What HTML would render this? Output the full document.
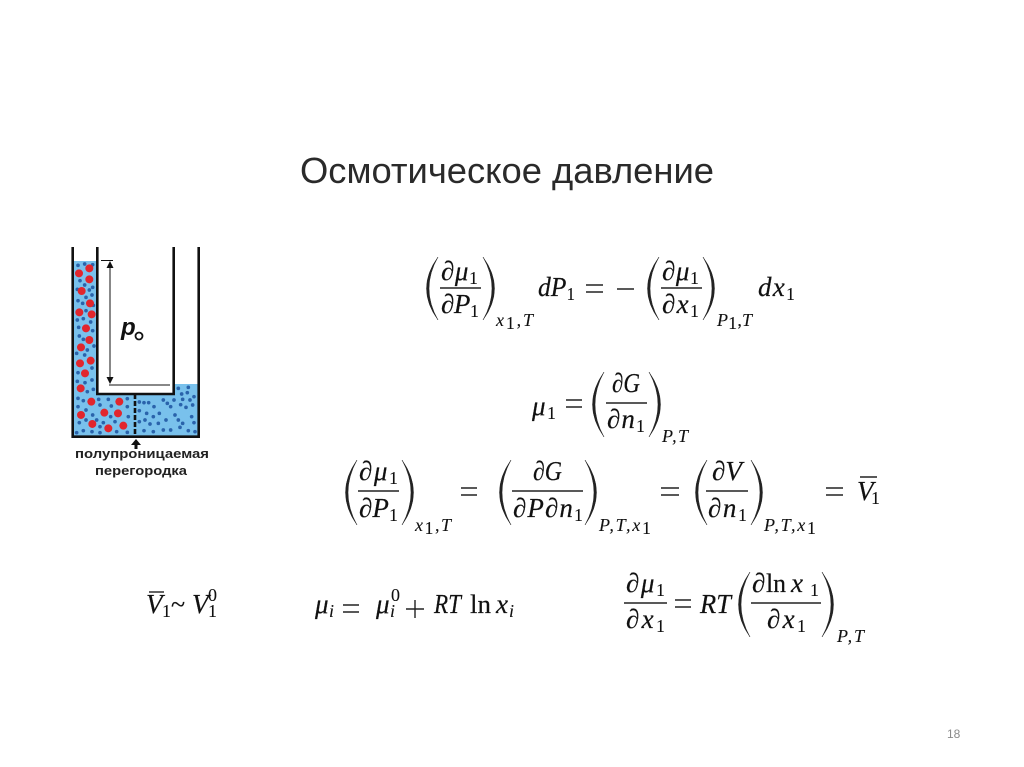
<!DOCTYPE html>
<html lang="ru">
<head>
<meta charset="utf-8">
<title>Осмотическое давление</title>
<style>
html,body{margin:0;padding:0;background:#fff;width:1024px;height:767px;overflow:hidden}
svg{display:block}
text{font-family:"Liberation Serif",serif;fill:#111}
.m{font-size:27px;font-style:italic;stroke:#111;stroke-width:.2}
.s{font-size:18px;font-style:normal;stroke:#111;stroke-width:.1}
.b{font-size:18px;font-style:italic;stroke:#111;stroke-width:.1}
.op{font-size:26px;font-style:normal;stroke:#111;stroke-width:.2}
.l{stroke:#222;stroke-width:1.4}
.p{fill:#222;stroke:#222;stroke-width:.5}
</style>
</head>
<body>
<svg width="1024" height="767" viewBox="0 0 1024 767" xmlns="http://www.w3.org/2000/svg">
<rect width="1024" height="767" fill="#fff"/>

<text x="300" y="183" textLength="414" lengthAdjust="spacingAndGlyphs" style="font-family:'Liberation Sans',sans-serif;font-size:36px;fill:#2a2a2a">Осмотическое давление</text>

<!-- Diagram -->
<rect x="73" y="261" width="25" height="175" fill="#79c1ec"/>
<rect x="73" y="394" width="126" height="42" fill="#79c1ec"/>
<rect x="173" y="384" width="26" height="52" fill="#79c1ec"/>
<g transform="translate(50 240) scale(.3333)" fill="#2a63ab">
<circle cx="84" cy="76" r="5.500"/><circle cx="104" cy="72" r="5.500"/><circle cx="128" cy="74" r="5.500"/><circle cx="90" cy="122" r="5.500"/><circle cx="104" cy="135" r="5.500"/><circle cx="128" cy="142" r="5.500"/><circle cx="82" cy="148" r="5.500"/><circle cx="118" cy="150" r="5.500"/><circle cx="126" cy="165" r="5.500"/><circle cx="108" cy="172" r="5.500"/><circle cx="84" cy="182" r="5.500"/><circle cx="98" cy="190" r="5.500"/><circle cx="130" cy="196" r="5.500"/><circle cx="108" cy="212" r="5.500"/><circle cx="82" cy="240" r="5.500"/><circle cx="100" cy="236" r="5.500"/><circle cx="122" cy="246" r="5.500"/><circle cx="86" cy="262" r="5.500"/><circle cx="128" cy="272" r="5.500"/><circle cx="88" cy="288" r="5.500"/><circle cx="100" cy="298" r="5.500"/><circle cx="132" cy="318" r="5.500"/><circle cx="112" cy="330" r="5.500"/><circle cx="80" cy="340" r="5.500"/><circle cx="104" cy="345" r="5.500"/><circle cx="126" cy="384" r="5.500"/><circle cx="84" cy="398" r="5.500"/><circle cx="126" cy="420" r="5.500"/><circle cx="105" cy="428" r="5.500"/><circle cx="82" cy="424" r="5.500"/><circle cx="130" cy="448" r="5.500"/><circle cx="112" cy="455" r="5.500"/>
<circle cx="84" cy="475" r="5.500"/><circle cx="100" cy="482" r="5.500"/><circle cx="146" cy="478" r="5.500"/><circle cx="175" cy="478" r="5.500"/><circle cx="232" cy="476" r="5.500"/><circle cx="84" cy="500" r="5.500"/><circle cx="108" cy="510" r="5.500"/><circle cx="150" cy="495" r="5.500"/><circle cx="184" cy="498" r="5.500"/><circle cx="232" cy="500" r="5.500"/><circle cx="128" cy="525" r="5.500"/><circle cx="140" cy="540" r="5.500"/><circle cx="182" cy="530" r="5.500"/><circle cx="235" cy="530" r="5.500"/><circle cx="88" cy="548" r="5.500"/><circle cx="108" cy="540" r="5.500"/><circle cx="160" cy="548" r="5.500"/><circle cx="195" cy="545" r="5.500"/><circle cx="150" cy="560" r="5.500"/><circle cx="100" cy="572" r="5.500"/><circle cx="80" cy="578" r="5.500"/><circle cx="126" cy="575" r="5.500"/><circle cx="200" cy="575" r="5.500"/><circle cx="232" cy="577" r="5.500"/><circle cx="150" cy="578" r="5.500"/>
<circle cx="268" cy="486" r="5.500"/><circle cx="282" cy="488" r="5.500"/><circle cx="296" cy="488" r="5.500"/><circle cx="312" cy="500" r="5.500"/><circle cx="340" cy="480" r="5.500"/><circle cx="352" cy="490" r="5.500"/><circle cx="362" cy="500" r="5.500"/><circle cx="372" cy="480" r="5.500"/><circle cx="395" cy="462" r="5.500"/><circle cx="412" cy="458" r="5.500"/><circle cx="398" cy="478" r="5.500"/><circle cx="392" cy="494" r="5.500"/><circle cx="408" cy="502" r="5.500"/><circle cx="420" cy="480" r="5.500"/><circle cx="432" cy="470" r="5.500"/><circle cx="428" cy="495" r="5.500"/><circle cx="268" cy="512" r="5.500"/><circle cx="290" cy="520" r="5.500"/><circle cx="310" cy="530" r="5.500"/><circle cx="328" cy="520" r="5.500"/><circle cx="348" cy="540" r="5.500"/><circle cx="375" cy="525" r="5.500"/><circle cx="385" cy="540" r="5.500"/><circle cx="398" cy="550" r="5.500"/><circle cx="390" cy="562" r="5.500"/><circle cx="425" cy="530" r="5.500"/><circle cx="432" cy="548" r="5.500"/><circle cx="268" cy="545" r="5.500"/><circle cx="285" cy="540" r="5.500"/><circle cx="300" cy="552" r="5.500"/><circle cx="325" cy="550" r="5.500"/><circle cx="282" cy="572" r="5.500"/><circle cx="310" cy="575" r="5.500"/><circle cx="340" cy="570" r="5.500"/><circle cx="362" cy="570" r="5.500"/><circle cx="415" cy="572" r="5.500"/><circle cx="435" cy="575" r="5.500"/><circle cx="385" cy="445" r="5.500"/><circle cx="415" cy="442" r="5.500"/>
</g>
<g transform="translate(50 240) scale(.3333)" fill="#e1262d">
<circle cx="87" cy="100" r="12"/><circle cx="118" cy="85" r="12"/><circle cx="118" cy="118" r="12"/><circle cx="95" cy="153" r="12"/><circle cx="120" cy="190" r="12"/><circle cx="88" cy="217" r="12"/><circle cx="125" cy="223" r="12"/><circle cx="108" cy="265" r="12"/><circle cx="118" cy="300" r="12"/><circle cx="93" cy="322" r="12"/><circle cx="122" cy="362" r="12"/><circle cx="90" cy="370" r="12"/><circle cx="105" cy="400" r="12"/><circle cx="92" cy="445" r="12"/><circle cx="124" cy="485" r="12"/><circle cx="208" cy="485" r="12"/><circle cx="93" cy="525" r="12"/><circle cx="163" cy="518" r="12"/><circle cx="204" cy="520" r="12"/><circle cx="127" cy="552" r="12"/><circle cx="175" cy="565" r="12"/><circle cx="220" cy="557" r="12"/>
</g>
<g fill="none" stroke="#111" stroke-width="2.600">
<path d="M72.700 247V436.700H198.700V247"/>
<path d="M97.300 247V394H173.700V247"/>
<path d="M135 394V436.700" stroke-dasharray="5 2"/>
</g>
<g stroke="#111" stroke-width="1" fill="none">
<path d="M101 260.500H113"/><path d="M110 264V382"/><path d="M109 385H170"/>
</g>
<path d="M110 261l-3.500 7h7zM110 384l-3.500-7h7z" fill="#111"/>
<text x="121" y="335" style="font-family:'Liberation Sans',sans-serif;font-size:24px;font-weight:bold;font-style:italic;fill:#111">p</text>
<circle cx="139" cy="336" r="3.500" fill="none" stroke="#111" stroke-width="1.800"/>
<path d="M136 439l-5 6h3.500v4h3v-4h3.500z" fill="#111"/>
<text x="75" y="458" textLength="134" lengthAdjust="spacingAndGlyphs" style="font-family:'Liberation Sans',sans-serif;font-size:13px;font-weight:bold;fill:#222">полупроницаемая</text>
<text x="95" y="475" textLength="92" lengthAdjust="spacingAndGlyphs" style="font-family:'Liberation Sans',sans-serif;font-size:13px;font-weight:bold;fill:#222">перегородка</text>

<!-- Formula 1 -->
<path class="p" d="M438 257Q415 288.500 438 320Q420 288.500 438 257Z"/>
<text class="m" x="441" y="280" textLength="37">∂μ<tspan class="s" dy="4">1</tspan></text>
<path class="l" d="M440 288H481"/>
<text class="m" x="441" y="313" textLength="38">∂P<tspan class="s" dy="4">1</tspan></text>
<path class="p" d="M483 257Q506 288.500 483 320Q501 288.500 483 257Z"/>
<text class="b" x="496" y="326" textLength="37">x<tspan class="s" dy="3">1</tspan><tspan class="s" dy="-3">,</tspan>T</text>
<text class="m" x="538" y="296" textLength="37" lengthAdjust="spacingAndGlyphs">dP<tspan class="s" dy="4">1</tspan></text>
<path class="l" d="M586 285H603M586 292H603M617 289H634"/>
<path class="p" d="M659 257Q636 288.500 659 320Q641 288.500 659 257Z"/>
<text class="m" x="662" y="280" textLength="37">∂μ<tspan class="s" dy="4">1</tspan></text>
<path class="l" d="M661 288H702"/>
<text class="m" x="662" y="313" textLength="37">∂x<tspan class="s" dy="4">1</tspan></text>
<path class="p" d="M703 257Q726 288.500 703 320Q721 288.500 703 257Z"/>
<text class="b" x="717" y="326" textLength="35">P<tspan class="s" dy="3">1</tspan><tspan class="s" dy="-3">,</tspan>T</text>
<text class="m" x="758" y="296" textLength="37">dx<tspan class="s" dy="4">1</tspan></text>

<!-- Formula 2 -->
<text class="m" x="532" y="415" textLength="24">μ<tspan class="s" dy="4">1</tspan></text>
<path class="l" d="M566 400H582M566 407H582"/>
<path class="p" d="M604 372Q581 404.500 604 437Q586 404.500 604 372Z"/>
<text class="m" x="612" y="392" textLength="28" lengthAdjust="spacingAndGlyphs">∂G</text>
<path class="l" d="M606 403H647"/>
<text class="m" x="607" y="428" textLength="38">∂n<tspan class="s" dy="4">1</tspan></text>
<path class="p" d="M649 372Q672 404.500 649 437Q667 404.500 649 372Z"/>
<text class="b" x="662" y="442" textLength="26">P,T</text>

<!-- Formula 3 -->
<path class="p" d="M357 460Q334 492.500 357 525Q339 492.500 357 460Z"/>
<text class="m" x="359" y="480" textLength="39">∂μ<tspan class="s" dy="4">1</tspan></text>
<path class="l" d="M358 491H399"/>
<text class="m" x="359" y="517" textLength="39">∂P<tspan class="s" dy="4">1</tspan></text>
<path class="p" d="M402 460Q425 492.500 402 525Q420 492.500 402 460Z"/>
<text class="b" x="415" y="531" textLength="36">x<tspan class="s" dy="3">1</tspan><tspan class="s" dy="-3">,</tspan>T</text>
<path class="l" d="M461 488H477M461 495H477"/>
<path class="p" d="M511 460Q488 492.500 511 525Q493 492.500 511 460Z"/>
<text class="m" x="533" y="480" textLength="29" lengthAdjust="spacingAndGlyphs">∂G</text>
<path class="l" d="M512 491H583"/>
<text class="m" x="513" y="517" textLength="70">∂P∂n<tspan class="s" dy="4">1</tspan></text>
<path class="p" d="M585 460Q608 492.500 585 525Q603 492.500 585 460Z"/>
<text class="b" x="599" y="531" textLength="52">P,T,x<tspan class="s" dy="3">1</tspan></text>
<path class="l" d="M661 488H679M661 495H679"/>
<path class="p" d="M707 460Q684 492.500 707 525Q689 492.500 707 460Z"/>
<text class="m" x="712" y="480" textLength="30" lengthAdjust="spacingAndGlyphs">∂V</text>
<path class="l" d="M706 491H748"/>
<text class="m" x="708" y="517" textLength="39">∂n<tspan class="s" dy="4">1</tspan></text>
<path class="p" d="M751 460Q774 492.500 751 525Q769 492.500 751 460Z"/>
<text class="b" x="764" y="531" textLength="52">P,T,x<tspan class="s" dy="3">1</tspan></text>
<path class="l" d="M826 488H843M826 495H843"/>
<path class="l" d="M860 477H877"/>
<text class="m" x="857" y="500" textLength="23">V<tspan class="s" dy="4">1</tspan></text>

<!-- Formula 4 -->
<path class="l" d="M149 592H164"/>
<text class="m" x="146" y="613" textLength="25">V<tspan class="s" dy="4">1</tspan></text>
<text class="op" x="171" y="613">~</text>
<text class="m" x="192" y="613">V</text>
<text class="s" x="208" y="617">1</text>
<text class="s" x="208" y="601">0</text>

<!-- Formula 5 -->
<text class="m" x="315" y="613">μ</text>
<text class="b" x="329" y="617">i</text>
<path class="l" d="M343 605H359M343 612H359"/>
<text class="m" x="376" y="613">μ</text>
<text class="b" x="390" y="617">i</text>
<text class="s" x="391" y="601">0</text>
<path class="l" d="M406 609H424M415 600V618"/>
<text class="m" x="434" y="613" textLength="27" lengthAdjust="spacingAndGlyphs">RT</text>
<text class="op" x="470" y="613" textLength="21" lengthAdjust="spacingAndGlyphs">ln</text>
<text class="m" x="496" y="613">x</text>
<text class="b" x="509" y="617">i</text>

<!-- Formula 6 -->
<text class="m" x="626" y="592" textLength="39">∂μ<tspan class="s" dy="4">1</tspan></text>
<path class="l" d="M624 603H667"/>
<text class="m" x="626" y="628" textLength="39">∂x<tspan class="s" dy="4">1</tspan></text>
<path class="l" d="M675 600H691M675 607H691"/>
<text class="m" x="700" y="613" textLength="31" lengthAdjust="spacingAndGlyphs">RT</text>
<path class="p" d="M750 572Q727 604.500 750 637Q732 604.500 750 572Z"/>
<text class="m" x="752" y="592">∂</text>
<text class="op" x="766" y="592" textLength="20" lengthAdjust="spacingAndGlyphs">ln</text>
<text class="m" x="791" y="592" textLength="28">x<tspan class="s" dy="4">1</tspan></text>
<path class="l" d="M751 603H821"/>
<text class="m" x="767" y="628" textLength="39">∂x<tspan class="s" dy="4">1</tspan></text>
<path class="p" d="M822 572Q845 604.500 822 637Q840 604.500 822 572Z"/>
<text class="b" x="837" y="642" textLength="27">P,T</text>

<text x="947" y="738" style="font-family:'Liberation Sans',sans-serif;font-size:12px;fill:#8b8b8b">18</text>
</svg>
</body>
</html>
